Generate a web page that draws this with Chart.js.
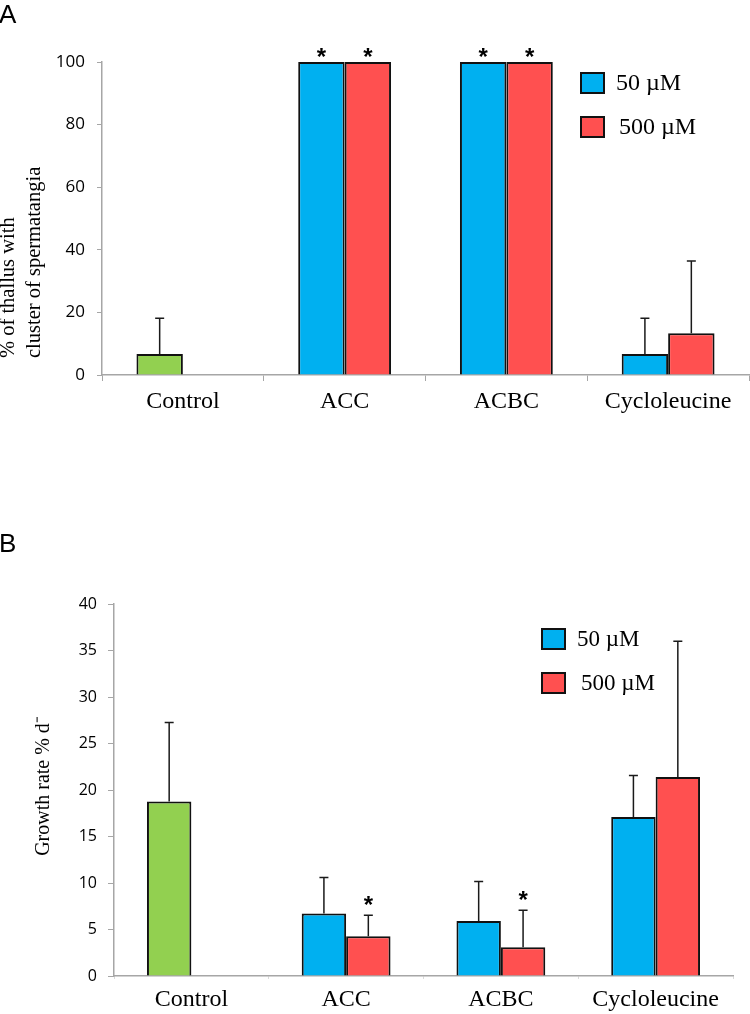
<!DOCTYPE html>
<html>
<head>
<meta charset="utf-8">
<script src="https://cdn.jsdelivr.net/npm/chart.js@4.4.1/dist/chart.umd.min.js"></script>
<style>
  body { margin: 0; background: #fff; }
  #wrap { position: relative; width: 750px; height: 1014px; }
  canvas { position: absolute; left: 0; }
</style>
</head>
<body>
<div id="wrap">
  <canvas id="chartA" width="750" height="500" style="top:0"></canvas>
  <canvas id="chartB" width="750" height="514" style="top:500px"></canvas>
</div>
<script>
// --- data ---
const categories = ['Control', 'ACC', 'ACBC', 'Cycloleucine'];
const seriesLabels = ['50 µM', '500 µM'];

// panel A: % of thallus with cluster of spermatangia
const spermMean50 = [6.67, 100, 100, 6.67];
const spermErr50 = [11.5, 0, 0, 11.5];
const spermMean500 = [null, 100, 100, 13.33];
const spermErr500 = [null, 0, 0, 23.1];
const spermSig50 = [false, true, true, false];
const spermSig500 = [false, true, true, false];
const spermTicks = [0, 20, 40, 60, 80, 100];

// panel B: growth rate % d-1
const growthMean50 = [18.76, 6.71, 5.92, 17.1];
const growthErr50 = [8.51, 3.87, 4.23, 4.46];
const growthMean500 = [null, 4.27, 3.09, 21.39];
const growthErr500 = [null, 2.26, 3.98, 14.6];
const growthSig50 = [false, false, false, false];
const growthSig500 = [false, true, true, false];
const growthTicks = [0, 5, 10, 15, 20, 25, 30, 35, 40];

const GREEN = '#92D050';
const BLUE = '#00B0F0';
const RED = '#FF5050';
const AXIS = '#A6A6A6';
const SERIF = '"Liberation Serif", "Times New Roman", serif';
const SANS = '"Open Sans", sans-serif';

// error bars, asterisks, legend, axis title and panel letter
const figureExtras = {
  id: 'figureExtras',
  afterDatasetsDraw(chart, args, opts) {
    const { ctx } = chart;
    const yScale = chart.scales.y;
    ctx.save();
    chart.data.datasets.forEach((ds, di) => {
      const meta = chart.getDatasetMeta(di);
      meta.data.forEach((bar, i) => {
        const v = ds.data[i];
        if (v === null || v === undefined) return;
        const err = ds.errors[i] || 0;
        let top = bar.y;
        if (err > 0) {
          top = yScale.getPixelForValue(v + err);
          ctx.strokeStyle = '#1a1a1a';
          ctx.lineWidth = 1.5;
          ctx.beginPath();
          ctx.moveTo(bar.x, bar.y);
          ctx.lineTo(bar.x, top);
          ctx.moveTo(bar.x - 4.5, top);
          ctx.lineTo(bar.x + 4.5, top);
          ctx.stroke();
        }
        if (ds.stars[i]) {
          ctx.fillStyle = '#000';
          ctx.font = 'bold 24px "Liberation Sans", sans-serif';
          ctx.textAlign = 'center';
          ctx.textBaseline = 'alphabetic';
          const m = ctx.measureText('*');
          const centre = top - opts.starGap;
          const base = centre + (m.actualBoundingBoxAscent - m.actualBoundingBoxDescent) / 2;
          ctx.fillText('*', bar.x, base);
        }
      });
    });
    ctx.restore();
  },
  afterDraw(chart, args, opts) {
    const { ctx } = chart;
    ctx.save();
    // legend
    const lg = opts.legend;
    seriesLabels.forEach((label, i) => {
      const y = lg.y + i * lg.gap;
      ctx.fillStyle = [BLUE, RED][i];
      ctx.fillRect(lg.x, y, 23, 20);
      ctx.strokeStyle = '#111';
      ctx.lineWidth = 2;
      ctx.strokeRect(lg.x, y, 23, 20);
      ctx.fillStyle = '#000';
      ctx.font = lg.font;
      ctx.textAlign = 'left';
      ctx.textBaseline = 'middle';
      ctx.fillText(label, lg.x + 35 + lg.shift[i], y + 11);
    });
    // y axis title
    const t = opts.yTitle;
    ctx.font = t.font;
    ctx.fillStyle = '#000';
    ctx.textAlign = t.align;
    ctx.textBaseline = 'alphabetic';
    t.lines.forEach((line, i) => {
      ctx.save();
      ctx.translate(t.x[i], t.y);
      ctx.rotate(-Math.PI / 2);
      ctx.fillText(line, 0, 0);
      ctx.restore();
    });
    // panel letter
    ctx.font = '26px "Liberation Sans", sans-serif';
    ctx.textAlign = 'left';
    ctx.textBaseline = 'alphabetic';
    ctx.fillText(opts.letter.text, -1, opts.letter.y);
    ctx.restore();
  }
};

function makeChart(id, cfg) {
  const ctx = document.getElementById(id);
  return new Chart(ctx, {
    type: 'bar',
    data: {
      labels: categories,
      datasets: [
        {
          label: seriesLabels[0],
          data: cfg.mean50,
          errors: cfg.err50,
          stars: cfg.sig50,
          backgroundColor: [GREEN, BLUE, BLUE, BLUE],
          borderColor: '#111',
          borderWidth: 2,
          categoryPercentage: 0.574,
          barPercentage: 1,
        },
        {
          label: seriesLabels[1],
          data: cfg.mean500,
          errors: cfg.err500,
          stars: cfg.sig500,
          backgroundColor: RED,
          borderColor: '#111',
          borderWidth: 2,
          categoryPercentage: 0.574,
          barPercentage: 1,
        },
      ],
    },
    options: {
      responsive: false,
      animation: false,
      layout: { padding: cfg.padding },
      plugins: {
        legend: { display: false },
        tooltip: { enabled: false },
        figureExtras: cfg.extras,
      },
      scales: {
        x: {
          grid: {
            offset: true,
            drawOnChartArea: false,
            tickLength: cfg.xTickLength,
            color: cfg.xTickColor,
          },
          border: { color: AXIS, width: 1.5 },
          ticks: {
            color: '#000',
            font: { family: SERIF, size: 24 },
            padding: cfg.xPad,
            maxRotation: 0,
            autoSkip: false,
          },
          afterFit: (scale) => { scale.height = cfg.xHeight; },
        },
        y: {
          min: 0,
          max: cfg.ticks[cfg.ticks.length - 1],
          afterBuildTicks: (scale) => { scale.ticks = cfg.ticks.map((v) => ({ value: v })); },
          grid: { drawOnChartArea: false, tickLength: cfg.yTickLength, color: AXIS },
          border: { color: AXIS, width: 1.5 },
          ticks: {
            color: '#000',
            font: { family: SANS, size: cfg.yFont },
            padding: cfg.yPad,
          },
          afterFit: (scale) => { scale.width = cfg.yWidth; },
        },
      },
    },
    plugins: [figureExtras],
  });
}

makeChart('chartA', {
  mean50: spermMean50, err50: spermErr50, sig50: spermSig50,
  mean500: spermMean500, err500: spermErr500, sig500: spermSig500,
  ticks: spermTicks,
  padding: { top: 62, right: 1, bottom: 0, left: 0 },
  xHeight: 125, yWidth: 102,
  xTickLength: 6, xTickColor: AXIS, xPad: 6,
  yTickLength: 5, yPad: 12, yFont: 17,
  extras: {
    starGap: 10,
    legend: { x: 581, y: 73, gap: 44, font: '24px ' + SERIF, shift: [0, 3] },
    yTitle: {
      lines: ['% of thallus with', 'cluster of spermatangia'],
      x: [14, 40], y: 358, align: 'left', font: '20.5px ' + SERIF,
    },
    letter: { text: 'A', y: 23 },
  },
});

makeChart('chartB', {
  mean50: growthMean50, err50: growthErr50, sig50: growthSig50,
  mean500: growthMean500, err500: growthErr500, sig500: growthSig500,
  ticks: growthTicks,
  padding: { top: 104, right: 17, bottom: 0, left: 0 },
  xHeight: 38, yWidth: 114,
  xTickLength: 3, xTickColor: '#DADADA', xPad: 6,
  yTickLength: 6, yPad: 11, yFont: 16,
  extras: {
    starGap: 15,
    legend: { x: 542, y: 129, gap: 44, font: '23px ' + SERIF, shift: [0, 4] },
    yTitle: {
      lines: ['Growth rate % d\u207B'],
      x: [49], y: 286, align: 'center', font: '20px ' + SERIF,
    },
    letter: { text: 'B', y: 52 },
  },
});
</script>
</body>
</html>
